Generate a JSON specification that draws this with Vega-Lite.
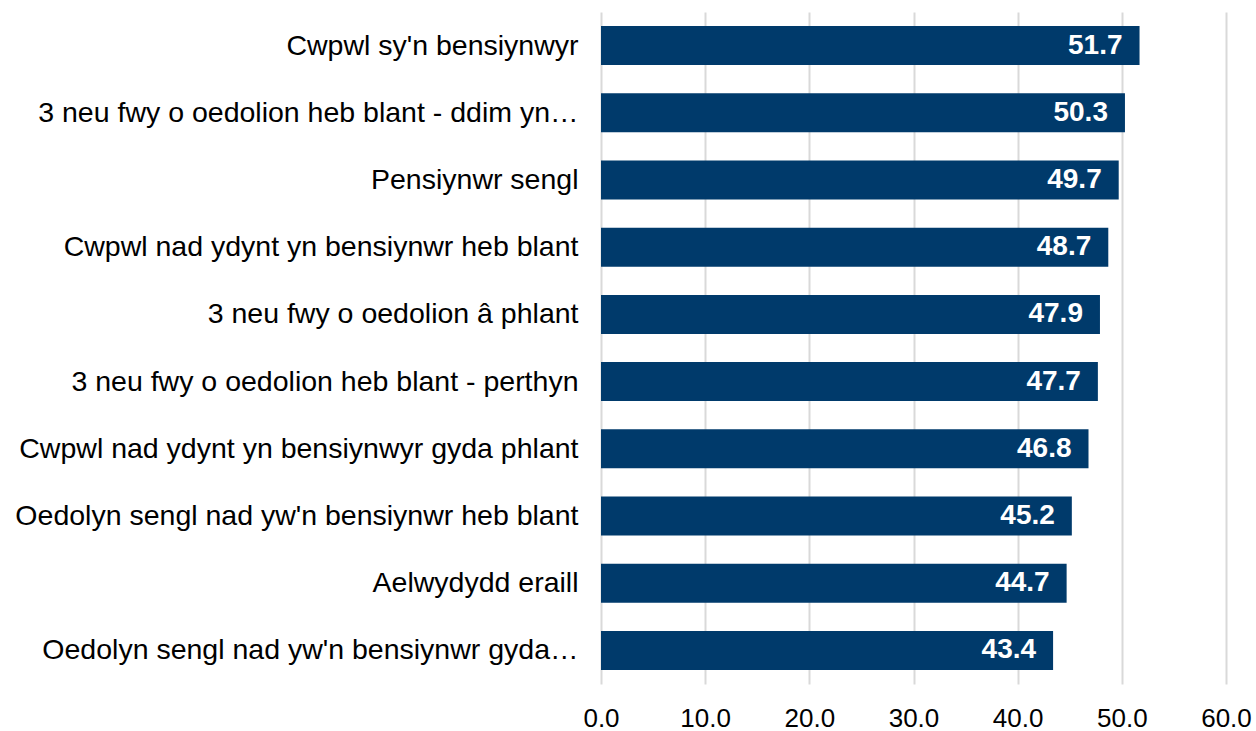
{
  "$schema": "https://vega.github.io/schema/vega-lite/v6.json",
  "autosize": {"type": "none"},
  "padding": {"left": 601, "top": 12, "right": 30, "bottom": 47},
  "width": 625,
  "height": 672,
  "background": "white",
  "config": {
    "view": {"stroke": null},
    "font": "Liberation Sans"
  },
  "data": {
    "values": [
      {"category": "Cwpwl sy'n bensiynwyr", "value": 51.7},
      {"category": "3 neu fwy o oedolion heb blant - ddim yn…", "value": 50.3},
      {"category": "Pensiynwr sengl", "value": 49.7},
      {"category": "Cwpwl nad ydynt yn bensiynwr heb blant", "value": 48.7},
      {"category": "3 neu fwy o oedolion â phlant", "value": 47.9},
      {"category": "3 neu fwy o oedolion heb blant - perthyn", "value": 47.7},
      {"category": "Cwpwl nad ydynt yn bensiynwyr gyda phlant", "value": 46.8},
      {"category": "Oedolyn sengl nad yw'n bensiynwr heb blant", "value": 45.2},
      {"category": "Aelwydydd eraill", "value": 44.7},
      {"category": "Oedolyn sengl nad yw'n bensiynwr gyda…", "value": 43.4}
    ]
  },
  "encoding": {
    "y": {
      "field": "category",
      "type": "nominal",
      "sort": null,
      "scale": {"paddingInner": 0.42, "paddingOuter": 0.21},
      "axis": {
        "title": null,
        "ticks": false,
        "domain": false,
        "labelFontSize": 28.5,
        "labelColor": "#000000",
        "labelPadding": 23,
        "labelLimit": 700
      }
    }
  },
  "layer": [
    {
      "mark": {"type": "bar", "color": "#003A6B"},
      "encoding": {
        "x": {
          "field": "value",
          "type": "quantitative",
          "scale": {"domain": [0, 60]},
          "axis": {
            "title": null,
            "values": [0, 10, 20, 30, 40, 50, 60],
            "format": ".1f",
            "ticks": false,
            "domain": false,
            "grid": true,
            "gridColor": "#D9D9D9",
            "gridWidth": 2,
            "labelFontSize": 26,
            "labelColor": "#000000",
            "labelPadding": 21,
            "labelFlush": false
          }
        }
      }
    },
    {
      "mark": {"type": "text", "align": "right", "baseline": "middle", "dx": -17, "color": "white", "fontWeight": "bold", "fontSize": 28},
      "encoding": {
        "x": {"field": "value", "type": "quantitative"},
        "text": {"field": "value", "type": "quantitative", "format": ".1f"}
      }
    }
  ]
}
